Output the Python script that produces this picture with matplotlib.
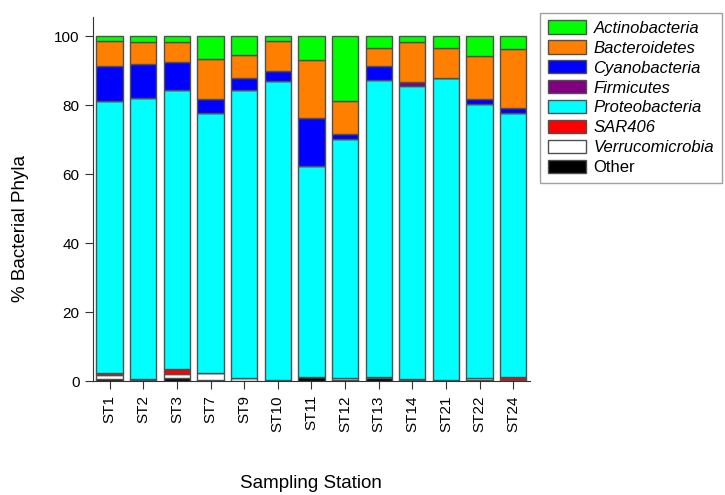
import matplotlib.pyplot as plt
import numpy as np

plt.rcParams['font.family'] = ['Liberation Sans', 'DejaVu Sans']

stations = ["ST1", "ST2", "ST3", "ST7", "ST9", "ST10", "ST11", "ST12",
            "ST13", "ST14", "ST21", "ST22", "ST24"]

# stacked bottom -> top
other = [0.5, 0.3, 1.0, 0.2, 0.0, 0.3, 1.2, 0.2, 1.0, 0.2, 0.3, 0.2, 0.4]
verrucomicrobia = [1.2, 0.3, 1.2, 2.1, 0.8, 0.1, 0.0, 0.7, 0.1, 0.5, 0.1, 0.8, 0.0]
sar406 = [0.8, 0.0, 1.3, 0.0, 0.0, 0.0, 0.0, 0.0, 0.0, 0.0, 0.0, 0.0, 0.8]
proteobacteria = [78.6, 81.4, 80.9, 75.6, 83.5, 86.6, 61.2, 69.4, 86.2, 85.0, 87.5, 79.5, 76.5]
firmicutes = [0.0, 0.0, 0.0, 0.0, 0.0, 0.0, 0.0, 0.0, 0.0, 1.0, 0.0, 0.0, 0.0]
cyanobacteria = [10.2, 9.9, 8.2, 4.0, 3.5, 3.0, 14.0, 1.4, 4.0, 0.0, 0.0, 1.3, 1.6]
bacteroidetes = [7.3, 6.5, 5.6, 11.6, 6.8, 8.6, 16.6, 9.6, 5.3, 11.5, 8.8, 12.5, 16.9]
actinobacteria = [1.4, 1.6, 1.8, 6.5, 5.4, 1.4, 7.0, 18.7, 3.4, 1.8, 3.3, 5.7, 3.8]

series = [
    ("Other", other, "#000000", False),
    ("Verrucomicrobia", verrucomicrobia, "#FFFFFF", True),
    ("SAR406", sar406, "#FF0000", True),
    ("Proteobacteria", proteobacteria, "#00FFFF", True),
    ("Firmicutes", firmicutes, "#800080", True),
    ("Cyanobacteria", cyanobacteria, "#0000FF", True),
    ("Bacteroidetes", bacteroidetes, "#FF8000", True),
    ("Actinobacteria", actinobacteria, "#00FF00", True),
]

fig = plt.figure(figsize=(7.25, 4.95), dpi=100)
ax = fig.add_axes([0.128, 0.23, 0.603, 0.735])

x = np.arange(len(stations))
bottom = np.zeros(len(stations))
handles = []
for name, vals, color, ital in series:
    b = ax.bar(x, vals, width=0.78, bottom=bottom, color=color,
               edgecolor="#505050", linewidth=1.0, label=name)
    bottom += np.array(vals)
    handles.append(b)

ax.set_xlim(-0.5, 12.5)
ax.set_ylim(0, 105.5)
ax.set_yticks([0, 20, 40, 60, 80, 100])
ax.set_xticks(x)
ax.set_xticklabels(stations, rotation=90)
ax.tick_params(axis='both', labelsize=11, direction='out', length=6, color='#333333')
ax.tick_params(axis='x', pad=4)
ax.spines['top'].set_visible(False)
ax.spines['right'].set_visible(False)
ax.spines['left'].set_color('#333333')
ax.spines['bottom'].set_color('#333333')

ax.set_ylabel("% Bacterial Phyla", fontsize=13.5)
ax.yaxis.set_label_coords(-0.145, 0.42)
ax.set_xlabel("Sampling Station", fontsize=13.5)
ax.xaxis.set_label_coords(0.5, -0.257)

leg = fig.legend(handles[::-1], [s[0] for s in series][::-1],
                 loc='upper left', bbox_to_anchor=(0.745, 0.974),
                 borderaxespad=0.0,
                 fontsize=12, frameon=True, fancybox=False,
                 handlelength=2.3, handleheight=0.85, labelspacing=0.27,
                 borderpad=0.45, handletextpad=0.45)
leg.get_frame().set_edgecolor('#888888')
leg.get_frame().set_linewidth(1.0)
for txt, s in zip(leg.get_texts(), series[::-1]):
    if s[3]:
        txt.set_style('italic')

plt.savefig("out.png", dpi=100)
plt.close()
